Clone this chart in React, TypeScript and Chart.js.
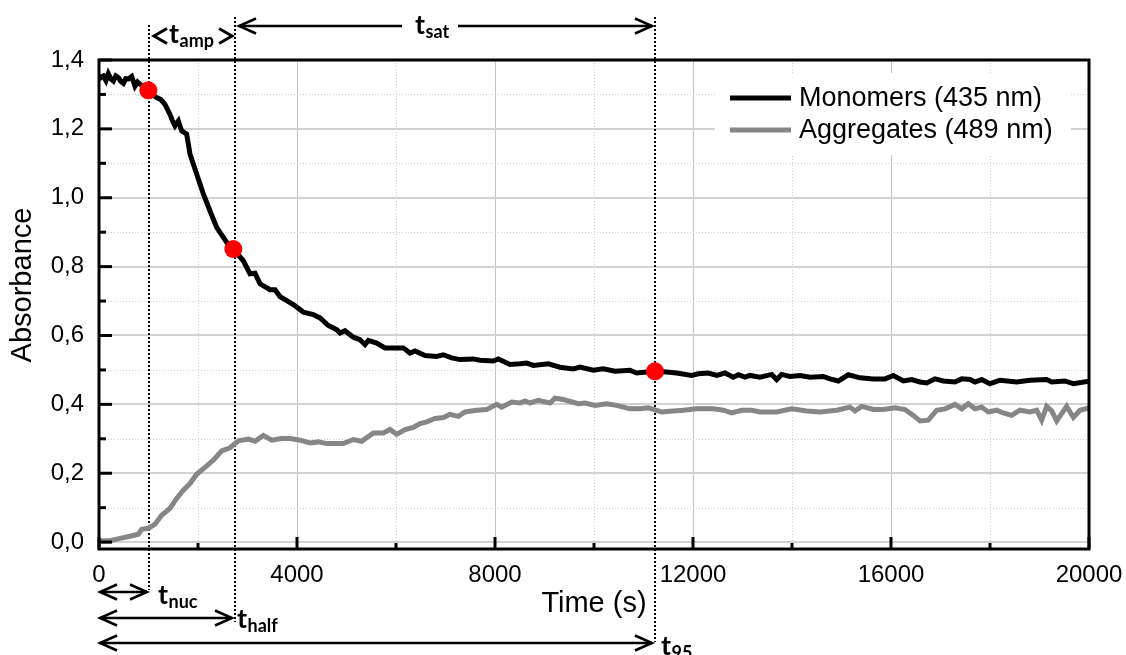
import React, { useEffect, useRef } from 'react';
import { Chart, registerables } from 'chart.js';

Chart.register(...registerables);

// ---- Data ----
const monomerTimes = [
  0, 50, 87, 140, 188, 240, 290, 340, 391, 440, 492, 540, 593, 660, 700, 727, 780, 828, 900, 997,
  1080, 1165, 1250, 1333, 1434, 1480, 1535, 1603, 1670, 1771, 1838, 1900, 1973, 2108, 2242, 2377,
  2512, 2600, 2714, 2916, 3051, 3152, 3253, 3455, 3556, 3657, 3926, 4128, 4330, 4465, 4633, 4801,
  4869, 4970, 5138, 5273, 5374, 5441, 5609, 5778, 6148, 6283, 6384, 6586, 6822, 6956, 7125, 7293,
  7562, 7697, 7966, 8067, 8303, 8505, 8640, 8774, 9077, 9313, 9582, 9717, 9986, 10188, 10424,
  10727, 10862, 11232, 11468, 11670, 11973, 12108, 12310, 12478, 12646, 12814, 12916, 13051, 13152,
  13354, 13590, 13690, 13791, 13960, 14162, 14364, 14633, 14768, 14936, 15138, 15374, 15643, 15879,
  16047, 16249, 16418, 16586, 16721, 16889, 17057, 17293, 17428, 17596, 17697, 17832, 18000, 18202,
  18539, 18808, 19145, 19246, 19515, 19684, 20000,
];
const monomerValues = [
  1.344, 1.352, 1.354, 1.340, 1.360, 1.345, 1.339, 1.354, 1.349, 1.338, 1.332, 1.346, 1.345, 1.352,
  1.336, 1.324, 1.336, 1.330, 1.322, 1.312, 1.300, 1.291, 1.285, 1.271, 1.242, 1.225, 1.209, 1.223,
  1.194, 1.185, 1.127, 1.100, 1.069, 1.011, 0.962, 0.914, 0.885, 0.866, 0.851, 0.817, 0.779, 0.781,
  0.750, 0.733, 0.733, 0.713, 0.690, 0.668, 0.661, 0.651, 0.629, 0.617, 0.607, 0.614, 0.595, 0.588,
  0.574, 0.586, 0.578, 0.564, 0.564, 0.549, 0.555, 0.542, 0.539, 0.544, 0.535, 0.530, 0.532, 0.528,
  0.526, 0.532, 0.516, 0.518, 0.520, 0.513, 0.518, 0.508, 0.503, 0.508, 0.499, 0.503, 0.496, 0.499,
  0.491, 0.496, 0.494, 0.491, 0.484, 0.489, 0.491, 0.484, 0.491, 0.479, 0.486, 0.479, 0.484, 0.479,
  0.487, 0.472, 0.487, 0.481, 0.484, 0.479, 0.481, 0.474, 0.468, 0.486, 0.477, 0.474, 0.474, 0.484,
  0.468, 0.472, 0.465, 0.462, 0.474, 0.468, 0.465, 0.474, 0.472, 0.465, 0.472, 0.460, 0.470, 0.465,
  0.470, 0.472, 0.465, 0.468, 0.460, 0.467,
];

const aggregateTimes = [
  0, 222, 424, 626, 795, 862, 997, 1131, 1266, 1434, 1569, 1704, 1838, 1973, 2141, 2310, 2478, 2646,
  2815, 3017, 3152, 3320, 3488, 3690, 3859, 4061, 4263, 4431, 4600, 4936, 5138, 5307, 5542, 5744,
  5879, 6013, 6182, 6350, 6485, 6620, 6788, 6956, 7091, 7259, 7394, 7630, 7832, 8034, 8135, 8337,
  8505, 8606, 8707, 8875, 9111, 9212, 9380, 9683, 9818, 10020, 10256, 10458, 10727, 10929, 11097,
  11367, 11603, 11805, 12074, 12411, 12613, 12781, 12983, 13185, 13354, 13690, 13993, 14296, 14566,
  14902, 15172, 15273, 15408, 15643, 15845, 16081, 16283, 16451, 16586, 16754, 16923, 17091, 17293,
  17428, 17562, 17697, 17832, 17966, 18135, 18269, 18438, 18606, 18808, 18943, 19044, 19145, 19246,
  19347, 19549, 19684, 19818, 20000,
];
const aggregateValues = [
  0.004, 0.004, 0.011, 0.017, 0.023, 0.037, 0.040, 0.052, 0.078, 0.098, 0.127, 0.151, 0.170, 0.197,
  0.217, 0.238, 0.265, 0.274, 0.294, 0.299, 0.293, 0.310, 0.296, 0.301, 0.301, 0.296, 0.288, 0.291,
  0.286, 0.286, 0.298, 0.293, 0.317, 0.317, 0.327, 0.313, 0.327, 0.333, 0.344, 0.349, 0.359, 0.362,
  0.371, 0.365, 0.378, 0.383, 0.385, 0.400, 0.392, 0.407, 0.404, 0.410, 0.404, 0.412, 0.404, 0.418,
  0.414, 0.402, 0.404, 0.397, 0.402, 0.397, 0.387, 0.387, 0.390, 0.378, 0.381, 0.383, 0.387, 0.387,
  0.383, 0.375, 0.383, 0.383, 0.378, 0.378, 0.387, 0.381, 0.378, 0.383, 0.392, 0.381, 0.394, 0.385,
  0.385, 0.390, 0.385, 0.368, 0.352, 0.354, 0.383, 0.387, 0.400, 0.387, 0.402, 0.387, 0.392, 0.378,
  0.383, 0.375, 0.368, 0.383, 0.378, 0.383, 0.354, 0.394, 0.381, 0.352, 0.394, 0.362, 0.383, 0.390,
];

const markerTimes = [997, 2714, 11232];
const markerValues = [1.312, 0.851, 0.496];

const eventNames = ['nuc', 'half', '95'];
const eventTimes = [1000, 2750, 11230];

const xTickValues = [0, 2000, 4000, 6000, 8000, 10000, 12000, 14000, 16000, 18000, 20000];
const xMajorStep = 4000;
const yTickValues = [0, 0.1, 0.2, 0.3, 0.4, 0.5, 0.6, 0.7, 0.8, 0.9, 1.0, 1.1, 1.2, 1.3, 1.4];

const seriesLabels = ['Monomers (435 nm)', 'Aggregates (489 nm)'];
const xTitle = 'Time (s)';
const yTitle = 'Absorbance';

// ---- Styles ----
const AXIS_FONT = "'Liberation Sans', Arial, sans-serif";
const NOTE_FONT = "Lato, 'Open Sans', sans-serif";

const isYMajor = (v: number) => Math.round(v * 10) % 2 === 0;
const isXMajor = (v: number) => Math.round(v) % xMajorStep === 0;

function chevron(ctx: CanvasRenderingContext2D, tipX: number, y: number, dir: number, len: number, half: number) {
  ctx.beginPath();
  ctx.moveTo(tipX - dir * len, y - half);
  ctx.lineTo(tipX, y);
  ctx.lineTo(tipX - dir * len, y + half);
  ctx.stroke();
}

function arrow(ctx: CanvasRenderingContext2D, x1: number, x2: number, y: number, gap?: [number, number]) {
  ctx.beginPath();
  if (gap) {
    ctx.moveTo(x1, y); ctx.lineTo(gap[0], y);
    ctx.moveTo(gap[1], y); ctx.lineTo(x2, y);
  } else {
    ctx.moveTo(x1, y); ctx.lineTo(x2, y);
  }
  ctx.stroke();
  chevron(ctx, x1, y, -1, 17, 7.5);
  chevron(ctx, x2, y, 1, 17, 7.5);
}

function tLabel(ctx: CanvasRenderingContext2D, x: number, baseline: number, sub: string) {
  ctx.fillStyle = '#000';
  ctx.textAlign = 'left';
  ctx.textBaseline = 'alphabetic';
  ctx.font = `bold 27px ${NOTE_FONT}`;
  ctx.fillText('t', x, baseline);
  const w = ctx.measureText('t').width;
  ctx.font = `bold 18px ${NOTE_FONT}`;
  ctx.fillText(sub, x + w + 0.5, baseline + 4);
}

const framePlugin = {
  id: 'frameAndNotes',
  beforeDatasetsDraw(chart: any) {
    const { ctx, chartArea: a, scales } = chart;
    const xs = scales.x, ys = scales.y;
    ctx.save();
    // vertical grid
    xTickValues.forEach((v) => {
      const x = Math.round(xs.getPixelForValue(v)) + 0.5;
      if (v === xTickValues[0] || v === xTickValues[xTickValues.length - 1]) return;
      ctx.beginPath();
      if (isXMajor(v)) { ctx.setLineDash([]); ctx.strokeStyle = '#c4c4c4'; ctx.lineWidth = 1; }
      else { ctx.setLineDash([1, 2]); ctx.strokeStyle = '#cfcfcf'; ctx.lineWidth = 1; }
      ctx.moveTo(x, a.top); ctx.lineTo(x, a.bottom); ctx.stroke();
    });
    // horizontal grid
    yTickValues.forEach((v) => {
      if (v === yTickValues[yTickValues.length - 1]) return;
      const y = Math.round(ys.getPixelForValue(v));
      ctx.beginPath();
      if (isYMajor(v)) { ctx.setLineDash([]); ctx.strokeStyle = '#d2d2d2'; ctx.lineWidth = 2; }
      else { ctx.setLineDash([1, 2]); ctx.strokeStyle = '#cfcfcf'; ctx.lineWidth = 1; }
      const yy = isYMajor(v) ? y : y + 0.5;
      ctx.moveTo(a.left, yy); ctx.lineTo(a.right, yy); ctx.stroke();
    });
    ctx.setLineDash([]);
    // legend background
    ctx.fillStyle = '#fff';
    ctx.fillRect(715, 73, 356, 82);
    // event lines
    ctx.strokeStyle = '#000';
    ctx.lineWidth = 2;
    ctx.setLineDash([2, 2]);
    const tops = [25, 17, 17];
    const bottoms = [590, 622, 642];
    eventTimes.forEach((t, i) => {
      const x = Math.round(xs.getPixelForValue(t));
      ctx.beginPath(); ctx.moveTo(x, tops[i]); ctx.lineTo(x, bottoms[i]); ctx.stroke();
    });
    ctx.restore();
  },
  afterDatasetsDraw(chart: any) {
    const { ctx, chartArea: a, scales } = chart;
    const xs = scales.x, ys = scales.y;
    ctx.save();
    // tick marks (inward)
    ctx.strokeStyle = '#000';
    ctx.lineWidth = 3;
    yTickValues.forEach((v) => {
      const y = ys.getPixelForValue(v);
      const len = isYMajor(v) ? 13 : 7;
      ctx.beginPath(); ctx.moveTo(a.left, y); ctx.lineTo(a.left + len, y); ctx.stroke();
    });
    xTickValues.forEach((v) => {
      const x = xs.getPixelForValue(v);
      const len = isXMajor(v) ? 12 : 6;
      ctx.beginPath(); ctx.moveTo(x, a.bottom); ctx.lineTo(x, a.bottom - len); ctx.stroke();
    });
    // frame
    ctx.lineWidth = 3;
    ctx.strokeRect(a.left, a.top, a.right - a.left, a.bottom - a.top);
    // legend
    const ds = chart.data.datasets.filter((d: any) => d.showInLegend);
    ds.forEach((d: any, i: number) => {
      const y = 98 + i * 32;
      ctx.strokeStyle = d.borderColor;
      ctx.lineWidth = d.borderWidth;
      ctx.beginPath(); ctx.moveTo(730, y); ctx.lineTo(791, y); ctx.stroke();
      ctx.fillStyle = '#000';
      ctx.font = `27px ${AXIS_FONT}`;
      ctx.textAlign = 'left';
      ctx.textBaseline = 'middle';
      ctx.fillText(d.label, 799, y + 1);
    });
    ctx.restore();
  },
  afterDraw(chart: any) {
    const { ctx, scales } = chart;
    const xs = scales.x;
    ctx.save();
    // y title
    ctx.translate(23, 285);
    ctx.rotate(-Math.PI / 2);
    ctx.fillStyle = '#000';
    ctx.font = `29px ${AXIS_FONT}`;
    ctx.textAlign = 'center';
    ctx.textBaseline = 'middle';
    ctx.fillText(yTitle, 0, 0);
    ctx.restore();

    ctx.save();
    const x0 = xs.getPixelForValue(0);
    const [pNuc, pHalf, p95] = eventTimes.map((t) => Math.round(xs.getPixelForValue(t)));
    ctx.strokeStyle = '#000';
    ctx.lineJoin = 'miter';
    // t_amp (chevrons only)
    ctx.lineWidth = 3;
    chevron(ctx, pNuc + 5, 36, -1, 13, 7.5);
    chevron(ctx, pHalf - 3, 36, 1, 13, 7.5);
    tLabel(ctx, pNuc + 20, 43, 'amp');
    // t_sat
    ctx.lineWidth = 2.5;
    arrow(ctx, pHalf + 4, p95 - 3, 26, [402, 458]);
    tLabel(ctx, 415, 34, 'sat');
    // bottom arrows
    arrow(ctx, x0 + 1, pNuc - 2, 592);
    tLabel(ctx, pNuc + 9, 604, eventNames[0]);
    arrow(ctx, x0 + 1, pHalf - 3, 618);
    tLabel(ctx, pHalf + 2, 628, eventNames[1]);
    arrow(ctx, x0 + 1, p95 - 3, 643);
    tLabel(ctx, p95 + 6, 655, eventNames[2]);
    ctx.restore();
  },
};

export default function App() {
  const ref = useRef<HTMLCanvasElement | null>(null);
  useEffect(() => {
    const canvas = ref.current!;
    const chart = new Chart(canvas, {
      type: 'line',
      data: {
        datasets: [
          {
            type: 'scatter',
            label: 'markers',
            data: markerTimes.map((t, i) => ({ x: t, y: markerValues[i] })),
            pointRadius: 9,
            pointBackgroundColor: '#ff0000',
            pointBorderWidth: 0,
            showLine: false,
            order: 0,
          } as any,
          {
            label: seriesLabels[0],
            data: monomerTimes.map((t, i) => ({ x: t, y: monomerValues[i] })),
            borderColor: '#000000',
            borderWidth: 5,
            pointRadius: 0,
            tension: 0,
            order: 1,
            showInLegend: true,
          } as any,
          {
            label: seriesLabels[1],
            data: aggregateTimes.map((t, i) => ({ x: t, y: aggregateValues[i] })),
            borderColor: '#868686',
            borderWidth: 5,
            pointRadius: 0,
            tension: 0,
            order: 2,
            showInLegend: true,
          } as any,
        ],
      },
      options: {
        responsive: false,
        animation: false,
        devicePixelRatio: 1,
        layout: { padding: { top: 60, right: 37, left: 0, bottom: 0 } },
        plugins: { legend: { display: false }, tooltip: { enabled: false } },
        scales: {
          x: {
            type: 'linear',
            min: 0,
            max: 20000,
            afterBuildTicks: (s: any) => { s.ticks = xTickValues.map((v) => ({ value: v })); },
            afterFit: (s: any) => { s.height = 106; s.paddingLeft = 0; s.paddingRight = 0; },
            grid: { display: false, drawTicks: false },
            border: { display: false },
            ticks: {
              autoSkip: false,
              maxRotation: 0,
              padding: 12,
              color: '#000',
              font: { family: AXIS_FONT, size: 24 },
              callback: (v: any) => (isXMajor(Number(v)) ? String(v) : ''),
            },
            title: {
              display: true,
              text: xTitle,
              color: '#000',
              font: { family: AXIS_FONT, size: 29 },
              padding: { top: 0, bottom: 34 },
            },
          },
          y: {
            type: 'linear',
            min: -0.02,
            max: 1.4,
            afterBuildTicks: (s: any) => { s.ticks = yTickValues.map((v) => ({ value: v })); },
            afterFit: (s: any) => { s.width = 99; s.paddingTop = 0; s.paddingBottom = 0; },
            grid: { display: false, drawTicks: false },
            border: { display: false },
            ticks: {
              autoSkip: false,
              padding: 15,
              color: '#000',
              font: { family: AXIS_FONT, size: 24 },
              callback: (v: any) => (isYMajor(Number(v)) ? Number(v).toFixed(1).replace('.', ',') : ''),
            },
          },
        },
      },
      plugins: [framePlugin],
    });
    return () => chart.destroy();
  }, []);

  return (
    <div style={{ position: 'fixed', left: 0, top: 0, width: 1126, height: 655, background: '#fff' }}>
      <canvas ref={ref} width={1126} height={655} style={{ display: 'block', width: 1126, height: 655 }} />
    </div>
  );
}
